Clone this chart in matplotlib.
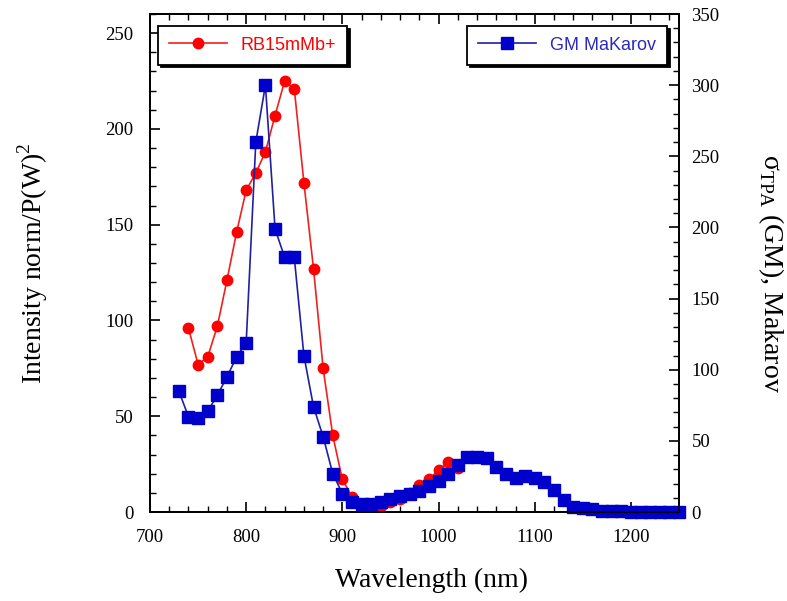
import matplotlib
matplotlib.use("Agg")
import matplotlib.pyplot as plt
from matplotlib.ticker import MultipleLocator

# RB15mMb+ (left axis)
rb_wl = [740, 750, 760, 770, 780, 790, 800, 810, 820, 830, 840, 850, 860, 870,
         880, 890, 900, 910, 920, 930, 940, 950, 960, 970, 980, 990, 1000, 1010, 1020]
rb_int = [96, 77, 81, 97, 121, 146, 168, 177, 188, 207, 225, 221, 172, 127,
          75, 40, 17, 8, 4, 1, 3, 5, 7, 10, 14, 17, 22, 26, 23]

# GM Makarov (right axis)
gm_wl = [730, 740, 750, 760, 770, 780, 790, 800, 810, 820, 830, 840, 850, 860,
         870, 880, 890, 900, 910, 920, 930, 940, 950, 960, 970, 980, 990, 1000,
         1010, 1020, 1030, 1040, 1050, 1060, 1070, 1080, 1090, 1100, 1110, 1120,
         1130, 1140, 1150, 1160, 1170, 1180, 1190, 1200, 1210, 1220, 1230, 1240, 1250]
gm_sigma = [85, 67, 66, 71, 82, 95, 109, 119, 260, 300, 199, 179, 179, 110,
            74, 53, 27, 13, 7, 6, 6, 7, 9.5, 11, 13, 15, 18, 22,
            27, 33, 39, 39, 38, 32, 27, 24, 25, 24, 21, 15.5,
            8.5, 3.5, 2.8, 1.8, 0.7, 0.5, 0.4, 0.3, 0.3, 0.2, 0.2, 0.2, 0.2]

plt.rcParams["font.family"] = ["Liberation Serif", "DejaVu Serif"]
plt.rcParams["mathtext.fontset"] = "custom"
plt.rcParams["mathtext.rm"] = "Liberation Serif"

fig, ax = plt.subplots(figsize=(7.87, 6.01), dpi=100)
fig.subplots_adjust(left=0.1906, right=0.8628, top=0.9767, bottom=0.148)
ax2 = ax.twinx()

l1, = ax.plot(rb_wl, rb_int, color="#f02020", lw=1.2, marker="o",
              ms=7.5, mfc="#ff0000", mec="#ff0000", label="RB15mMb+")
l2, = ax2.plot(gm_wl, gm_sigma, color="#2020a0", lw=1.2, marker="s",
               ms=8, mfc="#0000cc", mec="#0000cc", label="GM MaKarov", clip_on=False)

ax.set_xlim(700, 1250)
ax.set_ylim(0, 260)
ax2.set_ylim(0, 350)

ax.xaxis.set_major_locator(MultipleLocator(100))
ax.xaxis.set_minor_locator(MultipleLocator(20))
ax.yaxis.set_major_locator(MultipleLocator(50))
ax.yaxis.set_minor_locator(MultipleLocator(10))
ax2.yaxis.set_major_locator(MultipleLocator(50))
ax2.yaxis.set_minor_locator(MultipleLocator(10))

ax.tick_params(which="both", direction="in", top=True, right=False, labelsize=13.5)
ax.tick_params(which="major", length=7, width=1.2)
ax.tick_params(which="minor", length=4, width=1)
ax.tick_params(axis="x", pad=12)
ax.tick_params(axis="y", pad=12)
ax2.tick_params(which="both", direction="in", labelsize=13.5, pad=9)
ax2.tick_params(which="major", length=7, width=1.2)
ax2.tick_params(which="minor", length=4, width=1)

for a in (ax, ax2):
    for s in a.spines.values():
        s.set_linewidth(1.3)

ax.set_xlabel("Wavelength (nm)", fontsize=20, labelpad=16)
ax.xaxis.label.set_x(0.532)
ax.set_ylabel("Intensity norm/P(W)$^2$", fontsize=20, labelpad=40)
ax2.set_ylabel(r"σ$_{\mathrm{TPA}}$ (GM), Makarov", fontsize=20,
               rotation=-90, va="bottom", labelpad=26)
ax2.yaxis.label.set_y(0.48)

leg_kw = dict(frameon=True, fancybox=False, edgecolor="black",
              shadow={"color": "black", "alpha": 1.0},
              prop={"family": "Liberation Sans", "size": 13},
              handlelength=3.2, borderpad=0.6, borderaxespad=0)
lg1 = ax.legend(handles=[l1], loc="upper left", bbox_to_anchor=(0.015, 0.976), **leg_kw)
lg1.get_texts()[0].set_color("#ff0000")
lg1.get_frame().set_linewidth(1.3)
lg2 = ax2.legend(handles=[l2], loc="upper right", bbox_to_anchor=(0.977, 0.976), **leg_kw)
lg2.get_texts()[0].set_color("#2a2ac0")
lg2.get_frame().set_linewidth(1.3)

fig.savefig("out.png", dpi=100)
